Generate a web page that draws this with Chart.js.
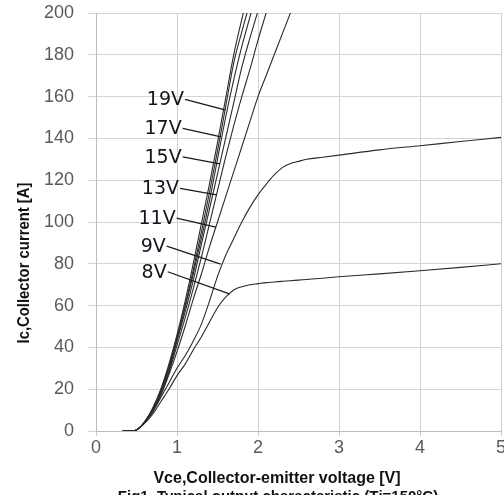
<!DOCTYPE html>
<html>
<head>
<meta charset="utf-8">
<script src="https://cdn.jsdelivr.net/npm/chart.js@4.4.1/dist/chart.umd.min.js"></script>
<style>
  html, body { margin: 0; padding: 0; background: #fff; }
  #wrap { width: 504px; height: 495px; }
</style>
</head>
<body>
<div id="wrap"><canvas id="ivChart" width="504" height="495"></canvas></div>
<script>
// Vce grid shared by all curves [V]
const vce = [0.33, 0.46, 0.55, 0.62, 0.7, 0.8, 0.9, 1.0, 1.1, 1.2, 1.3, 1.4, 1.5, 1.6, 1.7, 1.8, 1.9, 2.0, 2.1, 2.2, 2.3, 2.4, 2.5, 2.6, 2.8, 3.0, 3.5, 4.0, 4.5, 5.0];

// Ic [A] for each gate voltage
const ic20 = [0, 0, 2, 5.5, 11, 20, 32, 46, 62, 80, 99, 118, 138, 159, 180, 197, 212];
const ic19 = [0, 0, 2, 5.5, 10.5, 19.5, 31, 45, 60, 77, 95, 114, 134, 155, 176, 191, 205];
const ic17 = [0, 0, 2, 5.5, 10, 19, 30, 44, 59, 75, 92, 110, 130, 150, 168, 184, 198, 212];
const ic15 = [0, 0, 2, 5, 10, 18, 29, 43, 57, 72, 89, 106, 123, 140, 157, 174, 188, 201, 214];
const ic13 = [0, 0, 2, 5, 10, 18, 28, 41, 54, 68, 83, 99, 115, 131, 146, 160, 173, 187, 200, 213];
const ic11 = [0, 0, 2, 5, 9.5, 17, 27, 38, 50, 63, 75, 88, 100, 112, 124, 136, 148, 160, 170, 180, 190, 200, 210];
const ic9 = [0, 0, 2, 5, 9, 16, 23, 30, 36, 43, 51, 62, 74, 84, 92, 100, 107, 113, 118, 122.5, 126, 128, 129, 130, 131, 132, 134.5, 136.5, 138.5, 140.5];
const ic8 = [0, 0, 2, 4.5, 8, 14, 20, 26.5, 32, 38.8, 45, 52, 59, 64, 67.5, 69, 70, 70.5, 71, 71.3, 71.6, 71.9, 72.2, 72.5, 73.1, 73.8, 75.2, 76.7, 78.3, 80];

// curve labels and their leader lines (data coordinates)
const labelNames = ['19V', '17V', '15V', '13V', '11V', '9V', '8V'];
const labelFrom = [[1.099, 158.7], [1.07, 144.8], [1.07, 131.2], [1.037, 116.1], [0.996, 101.8], [0.873, 88.5], [0.885, 76.2]];
const labelTo = [[1.593, 153.6], [1.543, 140.7], [1.53, 127.8], [1.49, 113], [1.48, 97.6], [1.539, 79.9], [1.646, 65.6]];

const xTitle = 'Vce,Collector-emitter voltage [V]';
const yTitle = 'Ic,Collector current [A]';
const caption = 'Fig1. Typical output characteristic (Tj=150\u00b0C)';

function toPoints(ic) {
  return ic.map((y, i) => ({ x: vce[i], y: y }));
}

const curves = [ic20, ic19, ic17, ic15, ic13, ic11, ic9, ic8];
const datasets = curves.map(ic => ({
  data: toPoints(ic),
  showLine: true,
  borderColor: '#2b2b2b',
  borderWidth: 1.1,
  pointRadius: 0,
  cubicInterpolationMode: 'monotone'
}));

// leader lines, curve labels, axis titles
const annotations = {
  id: 'annotations',
  afterDatasetsDraw(chart) {
    const ctx = chart.ctx;
    const xs = chart.scales.x;
    const ys = chart.scales.y;
    ctx.save();
    ctx.strokeStyle = '#1a1a1a';
    ctx.lineWidth = 1.3;
    ctx.fillStyle = '#15151f';
    ctx.font = '19px "DejaVu Sans"';
    ctx.textAlign = 'right';
    ctx.textBaseline = 'middle';
    labelNames.forEach((name, i) => {
      const x0 = xs.getPixelForValue(labelFrom[i][0]);
      const y0 = ys.getPixelForValue(labelFrom[i][1]);
      const x1 = xs.getPixelForValue(labelTo[i][0]);
      const y1 = ys.getPixelForValue(labelTo[i][1]);
      ctx.beginPath();
      ctx.moveTo(x0, y0);
      ctx.lineTo(x1, y1);
      ctx.stroke();
      ctx.fillText(name, x0 - 1, y0 + 1);
    });
    ctx.restore();
  },
  afterDraw(chart) {
    const ctx = chart.ctx;
    ctx.save();
    ctx.fillStyle = '#111';
    ctx.textAlign = 'center';
    ctx.textBaseline = 'middle';
    ctx.font = 'bold 16px "Liberation Sans"';
    ctx.fillText(xTitle, 277, 479, 281);
    ctx.font = 'bold 15px "Liberation Sans"';
    ctx.fillText(caption, 278, 497, 343);
    ctx.translate(24, 263);
    ctx.rotate(-Math.PI / 2);
    ctx.font = 'bold 17px "Liberation Sans"';
    ctx.fillText(yTitle, 0, 0, 161);
    ctx.restore();
  }
};

new Chart(document.getElementById('ivChart'), {
  type: 'scatter',
  data: { datasets: datasets },
  options: {
    responsive: false,
    animation: false,
    layout: { padding: { top: 13, right: 3, left: 0, bottom: 0 } },
    plugins: {
      legend: { display: false },
      tooltip: { enabled: false }
    },
    scales: {
      x: {
        min: 0,
        max: 5,
        ticks: {
          stepSize: 1,
          color: '#5a5a5a',
          font: { family: 'Liberation Sans', size: 18 },
          padding: 1
        },
        grid: { color: '#cfcfcf', tickLength: 5 },
        border: { color: '#bdbdbd' },
        afterFit(scale) {
          scale.height = 64;
          scale.paddingLeft = 0;
          scale.paddingRight = 0;
        }
      },
      y: {
        min: 0,
        max: 200,
        ticks: {
          stepSize: 20,
          color: '#5a5a5a',
          font: { family: 'Liberation Sans', size: 18 },
          padding: 14
        },
        grid: { color: '#d4d4d4', tickLength: 8 },
        border: { color: '#bdbdbd' },
        afterFit(scale) {
          scale.width = 96;
          scale.paddingTop = 0;
          scale.paddingBottom = 0;
        }
      }
    }
  },
  plugins: [annotations]
});
</script>
</body>
</html>
